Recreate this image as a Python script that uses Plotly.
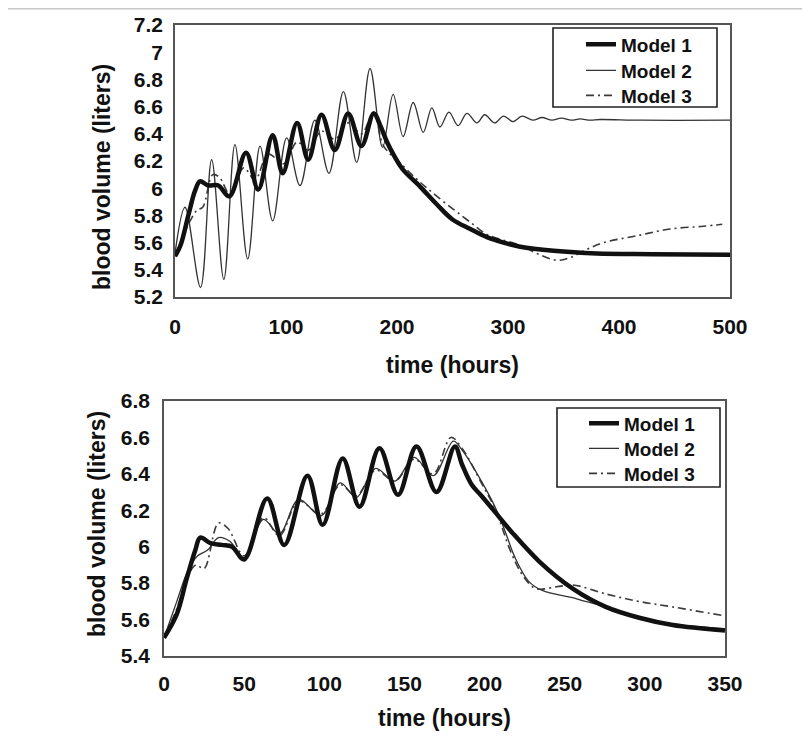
import plotly.graph_objects as go

# ---------------- data: top panel (0-500 h) ----------------
top_m1_t = [0, 5, 12, 18, 22.5, 30, 39, 49, 64, 75, 88, 97, 110, 120, 132, 144, 156, 168, 179, 185, 191,
            198, 205, 221, 236, 250, 266, 281, 296, 311, 341, 380, 430, 500]
top_m1_v = [5.50, 5.58, 5.80, 5.98, 6.05, 6.02, 6.02, 5.94, 6.26, 5.99, 6.39, 6.11, 6.48, 6.21, 6.54, 6.28, 6.55, 6.31, 6.55, 6.46, 6.34,
            6.23, 6.14, 6.01, 5.88, 5.77, 5.70, 5.64, 5.60, 5.57, 5.54, 5.52, 5.515, 5.51]

top_m2_t = [0, 9, 23, 33, 44, 54, 65.5, 76.6, 88, 100.6, 112.6, 126, 138.7, 151.7, 163.7, 175.7, 187, 196.5, 205.5,
            214.6, 223.6, 231.4, 238.7, 246.8, 255, 263, 272, 279, 288, 296, 304.5, 312.6, 322.5, 330.6, 339.6,
            348, 357, 365, 374, 383, 420, 500]
top_m2_v = [5.52, 5.86, 5.27, 6.21, 5.33, 6.32, 5.48, 6.31, 5.76, 6.37, 6.02, 6.50, 6.11, 6.71, 6.19, 6.88, 6.30, 6.69, 6.38,
            6.63, 6.41, 6.59, 6.45, 6.56, 6.46, 6.55, 6.48, 6.54, 6.48, 6.53, 6.49, 6.53, 6.50, 6.52, 6.50,
            6.515, 6.50, 6.51, 6.50, 6.505, 6.50, 6.50]

top_m3_t = [0, 8, 15, 20, 25, 34, 40, 50, 62, 72, 84, 98, 110, 120, 132, 144, 156, 168, 179, 188, 206, 220, 236,
            266, 281, 311, 326, 344, 356, 371, 386, 416, 446, 476, 493]
top_m3_v = [5.50, 5.66, 5.78, 5.84, 5.86, 6.10, 6.08, 5.95, 6.15, 6.06, 6.25, 6.18, 6.34, 6.28, 6.42, 6.36, 6.48, 6.40, 6.56, 6.31, 6.16, 6.05, 5.94,
            5.75, 5.66, 5.58, 5.52, 5.47, 5.49, 5.55, 5.60, 5.65, 5.70, 5.72, 5.735]

# ---------------- data: bottom panel (0-350 h) ----------------
bot_m1_t = [0, 8, 14, 19.5, 22.6, 29, 36, 42.5, 50, 64.4, 75, 89.5, 99, 111.5, 122, 134.4, 146, 157.5, 170, 181.5,
            186, 192, 198, 206.6, 217, 234, 255, 275.6, 296.5, 317.4, 350]
bot_m1_v = [5.50, 5.63, 5.82, 5.98, 6.05, 6.02, 6.01, 6.00, 5.93, 6.265, 6.01, 6.39, 6.12, 6.485, 6.22, 6.54, 6.285, 6.55, 6.30, 6.55,
            6.45, 6.34, 6.28, 6.19, 6.08, 5.92, 5.77, 5.67, 5.61, 5.57, 5.54]

bot_m2_t = [0, 8, 15, 21, 27, 34, 41, 50, 62, 72, 84, 98, 110, 120, 132, 144, 156, 168, 180.5, 186, 198, 207, 213,
            219, 227.5, 236, 255, 263, 276, 296, 317, 350]
bot_m2_v = [5.50, 5.70, 5.87, 5.95, 5.98, 6.05, 6.03, 5.94, 6.15, 6.07, 6.26, 6.17, 6.35, 6.27, 6.43, 6.36, 6.49, 6.39, 6.58, 6.53, 6.36, 6.21, 6.08,
            5.94, 5.81, 5.76, 5.72, 5.70, 5.67, 5.61, 5.575, 5.55]

bot_m3_t = [0, 8, 15, 20, 25, 34, 40, 50, 62, 72, 84, 98, 110, 120, 132, 144, 156, 168, 179, 186, 198, 207, 216,
            224, 232, 245, 255, 276, 296, 317, 350]
bot_m3_v = [5.50, 5.66, 5.84, 5.90, 5.88, 6.13, 6.10, 5.95, 6.16, 6.06, 6.25, 6.18, 6.34, 6.28, 6.42, 6.36, 6.48, 6.40, 6.60, 6.54, 6.35, 6.20, 5.98,
            5.84, 5.77, 5.78, 5.79, 5.74, 5.70, 5.67, 5.62]

names = ["Model 1", "Model 2", "Model 3"]
x_title = "time (hours)"
y_title = "blood volume (liters)"

FONT = "Liberation Sans, Arial, sans-serif"
styles = {
    "Model 1": dict(color="#111111", width=4.5),
    "Model 2": dict(color="#333333", width=1.3),
    "Model 3": dict(color="#3a3a3a", width=1.6, dash="8px,4px,2px,4px"),
}

# page body adds an 8px offset; work in screen pixels and convert
OFF = 8
W, H = 802, 728


def px(x):
    return (x - OFF) / W


def py(y):
    return 1 - (y - OFF) / H


tickfont = dict(family=FONT, size=21, color="#111111", weight="bold")
titlefont = dict(family=FONT, size=23, color="#111111", weight="bold")
legfont = dict(family=FONT, size=19, color="#111111", weight="bold")
axis_common = dict(showgrid=False, zeroline=False, showline=True, linecolor="#555555", linewidth=1.6,
                   mirror=True, ticks="", tickfont=tickfont, automargin=False)

fig = go.Figure()

top = {"Model 1": (top_m1_t, top_m1_v), "Model 2": (top_m2_t, top_m2_v), "Model 3": (top_m3_t, top_m3_v)}
bot = {"Model 1": (bot_m1_t, bot_m1_v), "Model 2": (bot_m2_t, bot_m2_v), "Model 3": (bot_m3_t, bot_m3_v)}

# one single-entry legend per model so the row spacing can match the original
top_leg_ids = {"Model 1": "legend", "Model 2": "legend3", "Model 3": "legend4"}
bot_leg_ids = {"Model 1": "legend2", "Model 2": "legend5", "Model 3": "legend6"}
top_leg_rows = {"Model 1": 44, "Model 2": 70, "Model 3": 95}
bot_leg_rows = {"Model 1": 423, "Model 2": 448, "Model 3": 473}

for nm in reversed(names):
    t, v = top[nm]
    fig.add_trace(go.Scatter(x=t, y=v, mode="lines", name=nm, line=dict(shape="spline", smoothing=1.0, **styles[nm]),
                             xaxis="x", yaxis="y", legend=top_leg_ids[nm]))
for nm in reversed(names):
    t, v = bot[nm]
    fig.add_trace(go.Scatter(x=t, y=v, mode="lines", name=nm, line=dict(shape="spline", smoothing=1.0, **styles[nm]),
                             xaxis="x2", yaxis="y2", legend=bot_leg_ids[nm]))


def box(x0, y0, x1, y1):
    return dict(type="rect", xref="paper", yref="paper", x0=px(x0), x1=px(x1), y0=py(y1), y1=py(y0),
                line=dict(color="#222222", width=1.6), fillcolor="rgba(0,0,0,0)")


def leg(x_left, y_center):
    return dict(x=px(x_left), y=py(y_center - 18.5), xanchor="left", yanchor="top",
                borderwidth=0, bgcolor="rgba(0,0,0,0)", font=legfont, itemwidth=30)


legends = {}
for nm in names:
    legends[top_leg_ids[nm]] = leg(581, top_leg_rows[nm])
    legends[bot_leg_ids[nm]] = leg(584, bot_leg_rows[nm])

fig.update_layout(
    width=W, height=H,
    margin=dict(l=0, r=0, t=0, b=0),
    paper_bgcolor="white", plot_bgcolor="white",
    xaxis=dict(domain=[px(175), px(730)], range=[0, 500], dtick=100, anchor="y",
               ticklabelstandoff=10, title=dict(text=x_title, font=titlefont, standoff=20), **axis_common),
    yaxis=dict(domain=[py(297), py(25)], range=[5.2, 7.2], dtick=0.2, anchor="x",
               ticklabelstandoff=6, **axis_common),
    xaxis2=dict(domain=[px(164), px(725)], range=[0, 350], dtick=50, anchor="y2",
                ticklabelstandoff=8, title=dict(text=x_title, font=titlefont, standoff=16), **axis_common),
    yaxis2=dict(domain=[py(656), py(401)], range=[5.4, 6.8], dtick=0.2, anchor="x2",
                ticklabelstandoff=8, **axis_common),
    annotations=[
        dict(text=y_title, textangle=-90, xref="paper", yref="paper", x=px(102), y=py(177),
             xanchor="center", yanchor="middle", showarrow=False, font=titlefont),
        dict(text=y_title, textangle=-90, xref="paper", yref="paper", x=px(97), y=py(524),
             xanchor="center", yanchor="middle", showarrow=False, font=titlefont),
    ],
    shapes=[
        dict(type="line", xref="paper", yref="paper", x0=0, x1=1, y0=1 - 0.5 / H, y1=1 - 0.5 / H,
             line=dict(color="#c8c8c8", width=2)),
        box(553, 28, 717, 107),
        box(557, 408, 720, 487),
    ],
    showlegend=True,
    **legends,
)

fig.write_html("out.html")
